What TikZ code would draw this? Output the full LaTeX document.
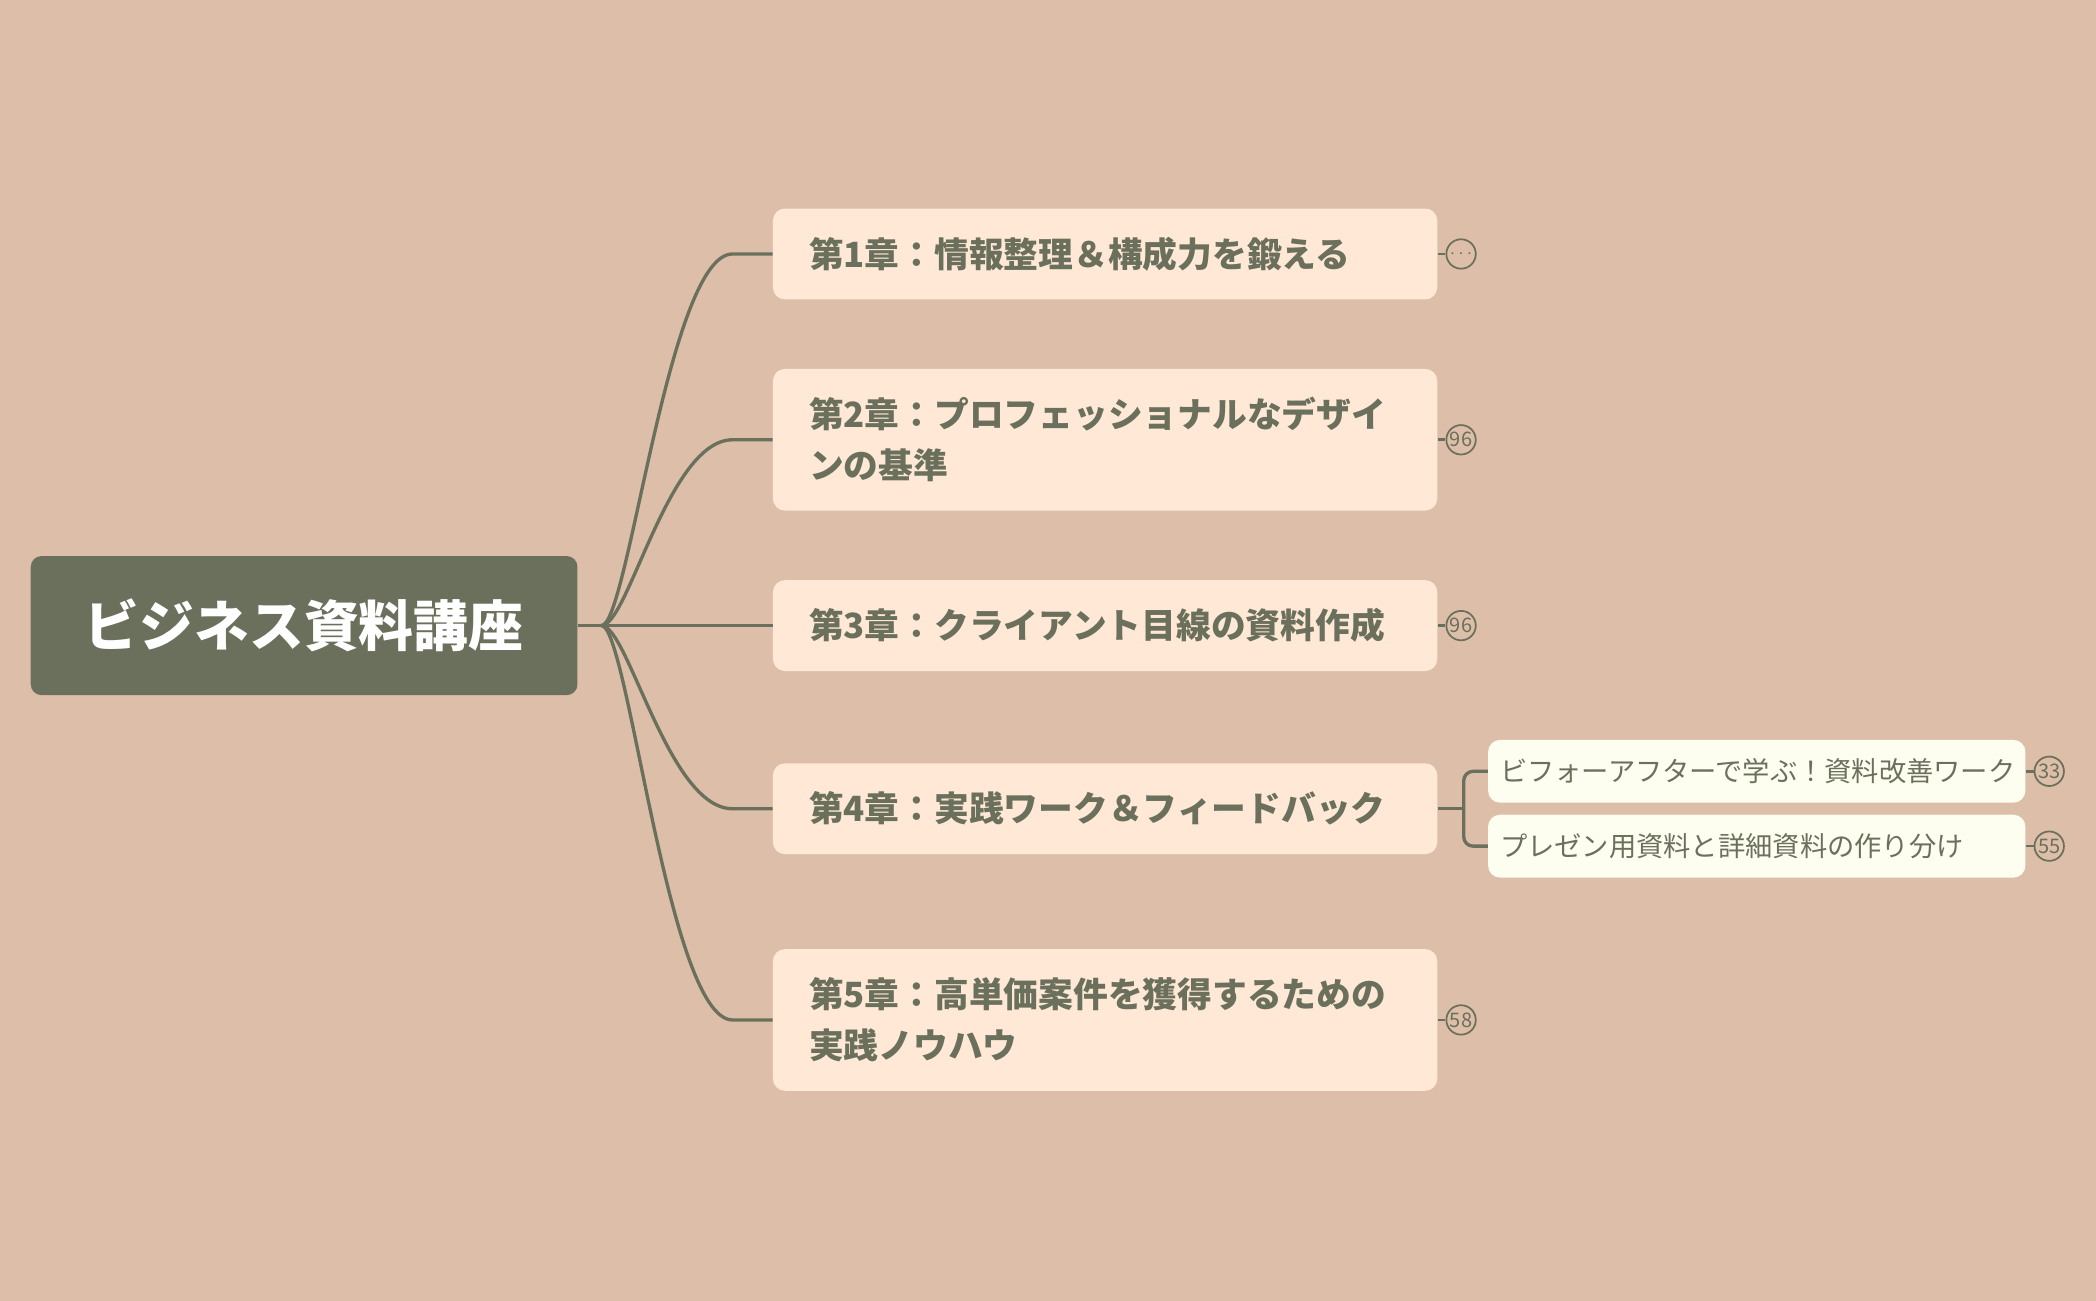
\documentclass[tikz,border=0pt]{standalone}
\usepackage{fontspec}
\setmainfont{Noto Sans CJK JP}
\definecolor{bg}{HTML}{DDBEA9}
\definecolor{dk}{HTML}{6B705C}
\definecolor{ch}{HTML}{FFE8D6}
\definecolor{sb}{HTML}{FEFEF0}
\begin{document}
\begin{tikzpicture}[x=1pt,y=-1pt,
 chap/.style={draw=none,fill=ch,rounded corners=9pt,minimum width=497pt,text width=443pt,align=left,inner xsep=27pt,font=\fontsize{26}{38}\selectfont\bfseries,text=dk,anchor=west},
 sub/.style={fill=sb,rounded corners=9pt,minimum width=402pt,minimum height=47pt,text width=384pt,inner xsep=9pt,align=left,font=\fontsize{20.4}{24}\selectfont,text=dk,anchor=west},
 mk/.style={circle,draw=dk,line width=1.3pt,minimum size=22pt,inner sep=0pt,font=\fontsize{15}{15}\selectfont,text=dk},
 ln/.style={draw=dk,line width=2.5pt}]
\fill[bg] (0,0) rectangle (1568,973);
\useasboundingbox (0,0) rectangle (1568,973);
\node[fill=dk,rounded corners=8pt,minimum width=409pt,minimum height=104pt,text=white,font=\fontsize{41}{41}\selectfont\bfseries] (root) at (227.5,468) {ビジネス資料講座};
\node[chap,minimum height=68pt] (c1) at (578,190) {第1章：情報整理＆構成力を鍛える};
\node[chap,minimum height=106pt] (c2) at (578,329) {第2章：プロフェッショナルなデザイ\\ンの基準};
\node[chap,minimum height=68pt] (c3) at (578,468) {第3章：クライアント目線の資料作成};
\node[chap,minimum height=68pt] (c4) at (578,605) {第4章：実践ワーク＆フィードバック};
\node[chap,minimum height=106pt] (c5) at (578,763) {第5章：高単価案件を獲得するための\\実践ノウハウ};
\node[sub] (s1) at (1113,577) {ビフォーアフターで学ぶ！資料改善ワーク};
\node[sub] (s2) at (1113,633) {プレゼン用資料と詳細資料の作り分け};
\coordinate (j) at (450,468);
\draw[ln] (root.east) -- (j);
\foreach \c in {c1,c2,c3,c4,c5}{
 \draw[ln] (j) .. controls (470,468) and (500,0|-\c.west) .. ([xshift=-30pt]\c.west) -- (\c.west);
}
\node[mk] (m1) at (1093,190) {$\cdots$};
\node[mk] (m2) at (1093,329) {96};
\node[mk] (m3) at (1093,468) {96};
\node[mk] (m5) at (1093,763) {58};
\node[mk] (m6) at (1533,577) {33};
\node[mk] (m7) at (1533,633) {55};
\foreach \a/\b in {c1/m1,c2/m2,c3/m3,c5/m5,s1/m6,s2/m7}{\draw[ln,line width=2pt] (\a.east) -- (\b.west);}
\coordinate (k) at (1095,605);
\draw[ln] (c4.east) -- (k);
\draw[ln,rounded corners=7pt] (s1.west) -- (1095,577) -- (1095,633) -- (s2.west);
\end{tikzpicture}
\end{document}
